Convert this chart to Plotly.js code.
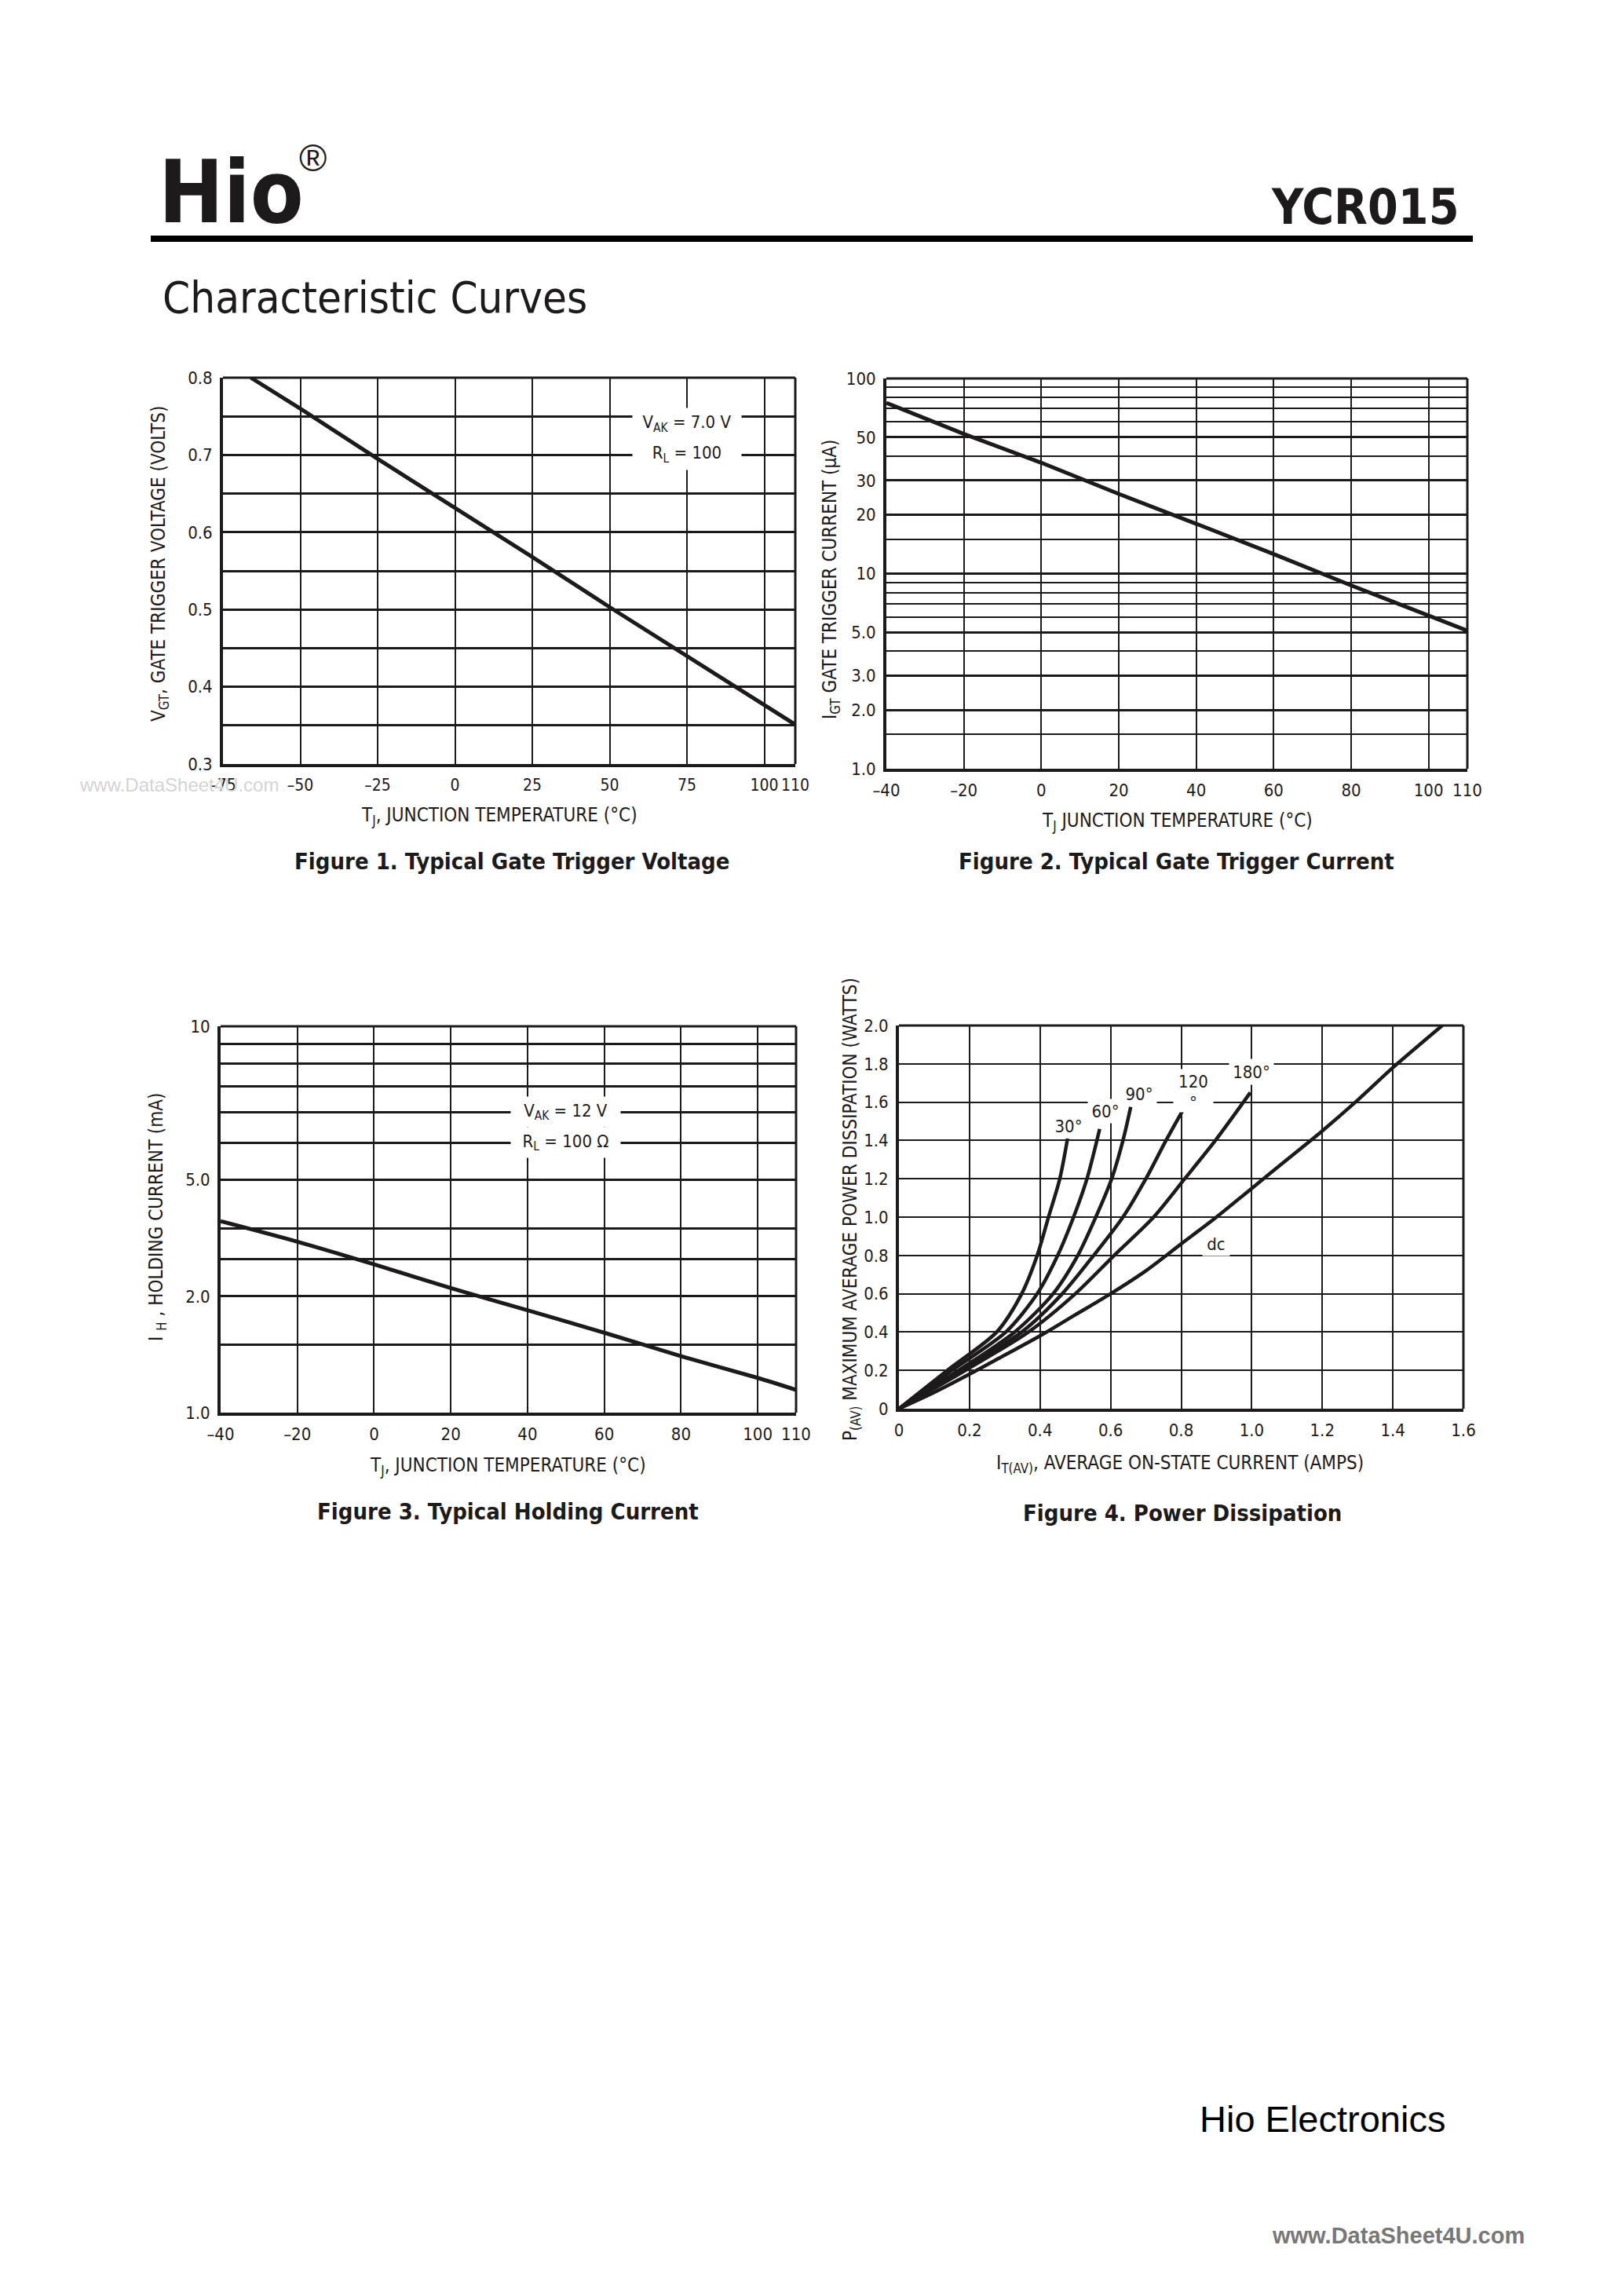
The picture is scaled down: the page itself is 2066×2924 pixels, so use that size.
<!DOCTYPE html>
<html>
<head>
<meta charset="utf-8">
<script src="https://cdn.plot.ly/plotly-3.0.1.min.js"></script>
<style>
  html, body { margin: 0; padding: 0; background: #fff; }
  #page { width: 2066px; height: 2924px; }
</style>
</head>
<body>
<div id="page"></div>
<script>
// Figure 1: gate trigger voltage vs junction temperature
const vgtTemp = [-66, -50, -25, 0, 25, 50, 75, 100, 110];
const vgtVolts = [0.80, 0.76, 0.695, 0.632, 0.568, 0.503, 0.44, 0.376, 0.351];

// Figure 2: gate trigger current (uA, log)
const igtTemp = [-40, -20, 0, 20, 40, 60, 80, 100, 110];
const igtMicroAmps = [75, 52, 37, 25.6, 18, 12.6, 8.7, 6.1, 5.1];

// Figure 3: holding current (mA, log)
const ihTemp = [-40, -20, 0, 20, 40, 60, 80, 100, 110];
const ihMilliAmps = [3.13, 2.77, 2.42, 2.10, 1.84, 1.61, 1.40, 1.23, 1.145];

// Figure 4: power dissipation, one curve per conduction angle
const curveNames = ['30°', '60°', '90°', '120°', '180°', 'dc'];
const amps30 = [0, 0.137, 0.277, 0.348, 0.392, 0.424, 0.456, 0.478];
const watts30 = [0, 0.2, 0.4, 0.6, 0.8, 1.0, 1.2, 1.41];
const amps60 = [0, 0.15, 0.303, 0.392, 0.45, 0.495, 0.533, 0.569];
const watts60 = [0, 0.2, 0.4, 0.6, 0.8, 1.0, 1.2, 1.46];
const amps90 = [0, 0.169, 0.328, 0.437, 0.507, 0.558, 0.603, 0.635, 0.657];
const watts90 = [0, 0.2, 0.4, 0.6, 0.8, 1.0, 1.2, 1.4, 1.575];
const amps120 = [0, 0.175, 0.348, 0.463, 0.552, 0.635, 0.70, 0.757, 0.83];
const watts120 = [0, 0.2, 0.4, 0.6, 0.8, 1.0, 1.2, 1.4, 1.64];
const amps180 = [0, 0.188, 0.367, 0.50, 0.61, 0.722, 0.81, 0.897, 0.996];
const watts180 = [0, 0.2, 0.4, 0.6, 0.8, 1.0, 1.2, 1.4, 1.65];
const ampsDc = [0, 0.1, 0.2, 0.3, 0.4, 0.5, 0.6, 0.7, 0.8, 0.9, 1.0, 1.1, 1.2, 1.3, 1.4, 1.54];
const wattsDc = [0, 0.085, 0.18, 0.28, 0.38, 0.49, 0.6, 0.72, 0.86, 1.0, 1.15, 1.3, 1.45, 1.61, 1.78, 2.0];

// tick labels
const tempTicks1 = [-75, -50, -25, 0, 25, 50, 75, 100, 110];
const tempText1 = ['\u201375', '\u201350', '\u201325', '0', '25', '50', '75', '100', '110'];
const tempTicks2 = [-40, -20, 0, 20, 40, 60, 80, 100, 110];
const tempText2 = ['\u201340', '\u201320', '0', '20', '40', '60', '80', '100', '110'];
const voltTicks = [0.3, 0.4, 0.5, 0.6, 0.7, 0.8];
const voltText = ['0.3', '0.4', '0.5', '0.6', '0.7', '0.8'];
const voltGrid = [0.35, 0.45, 0.55, 0.65, 0.75];
const igtTicks = [1, 2, 3, 5, 10, 20, 30, 50, 100];
const igtText = ['1.0', '2.0', '3.0', '5.0', '10', '20', '30', '50', '100'];
const igtGrid = [1.5, 4, 6, 7, 8, 9, 15, 40, 60, 70, 80, 90];
// the sheet prints "5.0" against the 4 mA line
const ihTicks = [1, 2, 4, 10];
const ihText = ['1.0', '2.0', '5.0', '10'];
const ihGrid = [1.5, 2.5, 3, 5, 6, 7, 8, 9];
const ampTicks = [0, 0.2, 0.4, 0.6, 0.8, 1.0, 1.2, 1.4, 1.6];
const ampText = ['0', '0.2', '0.4', '0.6', '0.8', '1.0', '1.2', '1.4', '1.6'];
const wattTicks = [0, 0.2, 0.4, 0.6, 0.8, 1.0, 1.2, 1.4, 1.6, 1.8, 2.0];
const wattText = ['0', '0.2', '0.4', '0.6', '0.8', '1.0', '1.2', '1.4', '1.6', '1.8', '2.0'];

const W = 2066, H = 2924;
const INK = '#1d1a1b';
const NARROW = '"Liberation Sans Narrow", "DejaVu Sans Condensed", "Liberation Sans", sans-serif';
const PLAIN = '"Liberation Sans", Arial, sans-serif';

// plot frames in page pixels
const boxes = {
	f1: {l: 284, r: 1013, t: 481, b: 973},
	f2: {l: 1129, r: 1869, t: 482, b: 979},
	f3: {l: 281, r: 1014, t: 1307, b: 1799},
	f4: {l: 1145, r: 1864, t: 1306, b: 1794},
};
const px = (x) => x / W;
const py = (y) => 1 - y / H;
const domX = (b) => [px(b.l), px(b.r)];
const domY = (b) => [py(b.b), py(b.t)];

function makeAxis(extra) {
	return Object.assign({
		showline: true,
		linecolor: INK,
		linewidth: 4,
		mirror: false,
		ticks: '',
		zeroline: false,
		showgrid: true,
		gridcolor: INK,
		gridwidth: 3,
		tickmode: 'array',
		tickangle: 0,
		tickfont: {family: NARROW, size: 22, color: INK},
		fixedrange: true,
		ticklabelstandoff: 5,
	}, extra);
}

function minorGrid(vals, width) {
	return {tickmode: 'array', tickvals: vals, showgrid: true, gridcolor: INK, gridwidth: width, ticks: ''};
}

function makeLine(x, y, xa, ya, width, shape) {
	return {
		x, y,
		xaxis: xa,
		yaxis: ya,
		mode: 'lines',
		hoverinfo: 'skip',
		line: {color: INK, width, shape: shape || 'linear', smoothing: 0.8},
	};
}

function frameEdges(xa, ya) {
	const edge = (x0, y0, x1, y1) => ({
		type: 'line', xref: xa + ' domain', yref: ya + ' domain',
		x0, y0, x1, y1, line: {color: INK, width: 3},
	});
	return [edge(0, 1, 1, 1), edge(1, 0, 1, 1)];
}

function pageText(text, x, y, size, opts) {
	return Object.assign({
		text,
		xref: 'paper', yref: 'paper',
		x: px(x), y: py(y),
		xanchor: 'center', yanchor: 'middle',
		showarrow: false,
		font: {family: NARROW, size, color: INK},
	}, opts);
}

function boldText(text, x, y, size, opts) {
	return pageText(text, x, y, size, Object.assign({
		font: {family: NARROW, size, color: INK, weight: 'bold'},
	}, opts));
}

function boxText(text, xa, ya, x, y, w, h) {
	return {
		text, xref: xa, yref: ya, x, y,
		showarrow: false,
		width: w, height: h,
		bgcolor: '#fff', borderpad: 0,
		font: {family: NARROW, size: 22, color: INK},
	};
}

function visualize() {
	const data = [
		makeLine(vgtTemp, vgtVolts, 'x', 'y', 5),
		makeLine(igtTemp, igtMicroAmps, 'x2', 'y2', 5),
		makeLine(ihTemp, ihMilliAmps, 'x3', 'y3', 5, 'spline'),
		makeLine(amps30, watts30, 'x4', 'y4', 4.5, 'spline'),
		makeLine(amps60, watts60, 'x4', 'y4', 4.5, 'spline'),
		makeLine(amps90, watts90, 'x4', 'y4', 4.5, 'spline'),
		makeLine(amps120, watts120, 'x4', 'y4', 4.5, 'spline'),
		makeLine(amps180, watts180, 'x4', 'y4', 4.5, 'spline'),
		makeLine(ampsDc, wattsDc, 'x4', 'y4', 4.5, 'spline'),
	];

	const annotations = [
		// faint scan watermark
		pageText('www.DataSheet4U.com', 228, 1000, 24, {font: {family: PLAIN, size: 24, color: '#d4d4d4'}}),

		// header
		boldText('Hio', 200, 245, 110, {xanchor: 'left'}),
		pageText('®', 398, 201, 48, {font: {family: PLAIN, size: 48, color: INK}}),
		boldText('YCR015', 1861, 264, 62, {xanchor: 'right'}),
		pageText('Characteristic Curves', 205, 378, 56, {xanchor: 'left'}),

		// axis titles
		pageText('V<sub>GT</sub>, GATE TRIGGER VOLTAGE (VOLTS)', 203, 718, 24, {textangle: -90}),
		pageText('T<sub>J</sub>, JUNCTION TEMPERATURE (°C)', 636, 1040, 24),
		pageText('I<sub>GT</sub> GATE TRIGGER CURRENT (\u03bcA)', 1058, 738, 24, {textangle: -90}),
		pageText('T<sub>J</sub> JUNCTION TEMPERATURE (°C)', 1499, 1047, 24),
		pageText('I <sub>H</sub> , HOLDING CURRENT (mA)', 200, 1550, 24, {textangle: -90}),
		pageText('T<sub>J</sub>, JUNCTION TEMPERATURE (°C)', 647, 1867, 24),
		pageText('P<sub>(AV)</sub> MAXIMUM AVERAGE POWER DISSIPATION (WATTS)', 1084, 1540, 24, {textangle: -90}),
		pageText('I<sub>T(AV)</sub>, AVERAGE ON-STATE CURRENT (AMPS)', 1503, 1864, 24),

		// captions
		boldText('Figure 1. Typical Gate Trigger Voltage', 652, 1097, 29),
		boldText('Figure 2. Typical Gate Trigger Current', 1498, 1097, 29),
		boldText('Figure 3. Typical Holding Current', 647, 1925, 29),
		boldText('Figure 4. Power Dissipation', 1506, 1927, 29),

		// footer
		pageText('Hio Electronics', 1843, 2698, 47, {xanchor: 'right', font: {family: PLAIN, size: 47, color: '#000'}}),
		pageText('www.DataSheet4U.com', 1781, 2847, 29, {font: {family: PLAIN, size: 29, color: '#777', weight: 'bold'}}),

		// test conditions
		boxText('V<sub>AK</sub> = 7.0 V', 'x', 'y', 75, 0.7406, 138, 39),
		boxText('R<sub>L</sub> = 100', 'x', 'y', 75, 0.7009, 138, 39),
		boxText('V<sub>AK</sub> = 12 V', 'x3', 'y3', 50, Math.log10(6), 139, 38),
		boxText('R<sub>L</sub> = 100 \u03a9', 'x3', 'y3', 50, Math.log10(5), 139, 38),

		// conduction angle labels
		boxText(curveNames[0], 'x4', 'y4', 0.48, 1.475, 44, 30),
		boxText(curveNames[1], 'x4', 'y4', 0.585, 1.555, 44, 30),
		boxText(curveNames[2], 'x4', 'y4', 0.68, 1.645, 44, 30),
		boxText('120', 'x4', 'y4', 0.835, 1.71, 44, 30),
		boxText('°', 'x4', 'y4', 0.835, 1.60, 50, 24),
		boxText(curveNames[4], 'x4', 'y4', 1.0, 1.76, 56, 32),
		boxText(curveNames[5], 'x4', 'y4', 0.9, 0.86, 34, 30),
	];

	const shapes = [
		// header rule
		{type: 'rect', xref: 'paper', yref: 'paper', x0: px(192), x1: px(1876), y0: py(308), y1: py(300),
			fillcolor: '#000', line: {width: 0}},
		...frameEdges('x', 'y'),
		...frameEdges('x2', 'y2'),
		...frameEdges('x3', 'y3'),
		...frameEdges('x4', 'y4'),
	];

	const layout = {
		width: W,
		height: H,
		margin: {l: 0, r: 0, t: 0, b: 0},
		paper_bgcolor: '#fff',
		plot_bgcolor: '#fff',
		showlegend: false,
		font: {family: NARROW, color: INK},
		xaxis: makeAxis({domain: domX(boxes.f1), anchor: 'y', range: [-75, 110],
			tickvals: tempTicks1, ticktext: tempText1, gridwidth: 2,
			tickfont: {family: NARROW, size: 21, color: INK}}),
		yaxis: makeAxis({domain: domY(boxes.f1), anchor: 'x', range: [0.3, 0.8],
			tickvals: voltTicks, ticktext: voltText, minor: minorGrid(voltGrid, 3)}),
		xaxis2: makeAxis({domain: domX(boxes.f2), anchor: 'y2', range: [-40, 110],
			tickvals: tempTicks2, ticktext: tempText2, gridwidth: 2}),
		yaxis2: makeAxis({domain: domY(boxes.f2), anchor: 'x2', type: 'log', range: [0, 2],
			tickvals: igtTicks, ticktext: igtText, minor: minorGrid(igtGrid, 2)}),
		xaxis3: makeAxis({domain: domX(boxes.f3), anchor: 'y3', range: [-40, 110],
			tickvals: tempTicks2, ticktext: tempText2, gridwidth: 2}),
		yaxis3: makeAxis({domain: domY(boxes.f3), anchor: 'x3', type: 'log', range: [0, 1],
			tickvals: ihTicks, ticktext: ihText, minor: minorGrid(ihGrid, 3)}),
		xaxis4: makeAxis({domain: domX(boxes.f4), anchor: 'y4', range: [0, 1.6],
			tickvals: ampTicks, ticktext: ampText, gridwidth: 2}),
		yaxis4: makeAxis({domain: domY(boxes.f4), anchor: 'x4', range: [0, 2],
			tickvals: wattTicks, ticktext: wattText, gridwidth: 2}),
		annotations,
		shapes,
	};

	Plotly.newPlot('page', data, layout, {staticPlot: true, displayModeBar: false});
}

window.onload = visualize;
</script>
</body>
</html>
